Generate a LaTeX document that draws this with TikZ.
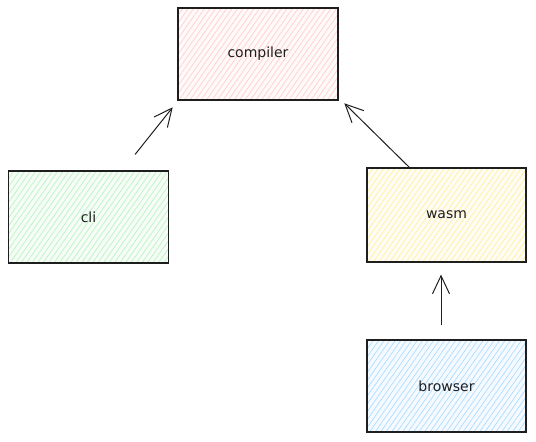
\documentclass[tikz,border=0pt]{standalone}
\usepackage{fontspec}
\setmainfont{DejaVu Sans}
\definecolor{boxpink}{HTML}{FFC9C9}
\definecolor{boxgreen}{HTML}{B2F2BB}
\definecolor{boxyellow}{HTML}{FFEC99}
\definecolor{boxblue}{HTML}{A5D8FF}
\definecolor{inkgray}{RGB}{30,30,30}
\usetikzlibrary{arrows.meta,patterns.meta,positioning}

\begin{document}
\begin{tikzpicture}[x=1pt,y=-1pt,
          crate/.style={rectangle,draw=inkgray,line width=1.2pt,
                        minimum width=160pt,minimum height=92pt,
                        font=\fontsize{14}{16}\selectfont,text=inkgray},
          hatch/.style={preaction={fill=#1!12},
                        pattern={Lines[angle=55,distance=4.5pt,line width=0.6pt]},
                        pattern color=#1},
          link/.style={draw=inkgray,line width=1pt,
                       -{Straight Barb[length=18pt,width=17pt,line width=1pt]}}]
        \useasboundingbox (0,0) rectangle (536,442);
        % boxes
        \node[crate,hatch=boxpink] (compiler) at (258,54) {compiler};
        \node[crate,hatch=boxgreen] (cli) at (88.5,217) {cli};
        \node[crate,hatch=boxyellow,minimum width=159pt,minimum height=94pt] (wasm) at (446.5,215) {wasm};
        \node[crate,hatch=boxblue,minimum width=159pt] (browser) at (446.5,386) {browser};
        % dependencies
        \draw[link] ([xshift=-34pt,yshift=16pt]cli.north east) -- ([xshift=-5pt,yshift=-7pt]compiler.south west);
        \draw[link] ([xshift=43pt]wasm.north west) -- ([xshift=6pt,yshift=-3pt]compiler.south east);
        \draw[link] ([xshift=-5.5pt,yshift=14pt]browser.north) -- ([xshift=-5.5pt,yshift=-12pt]wasm.south);
        \end{tikzpicture}
\end{document}
